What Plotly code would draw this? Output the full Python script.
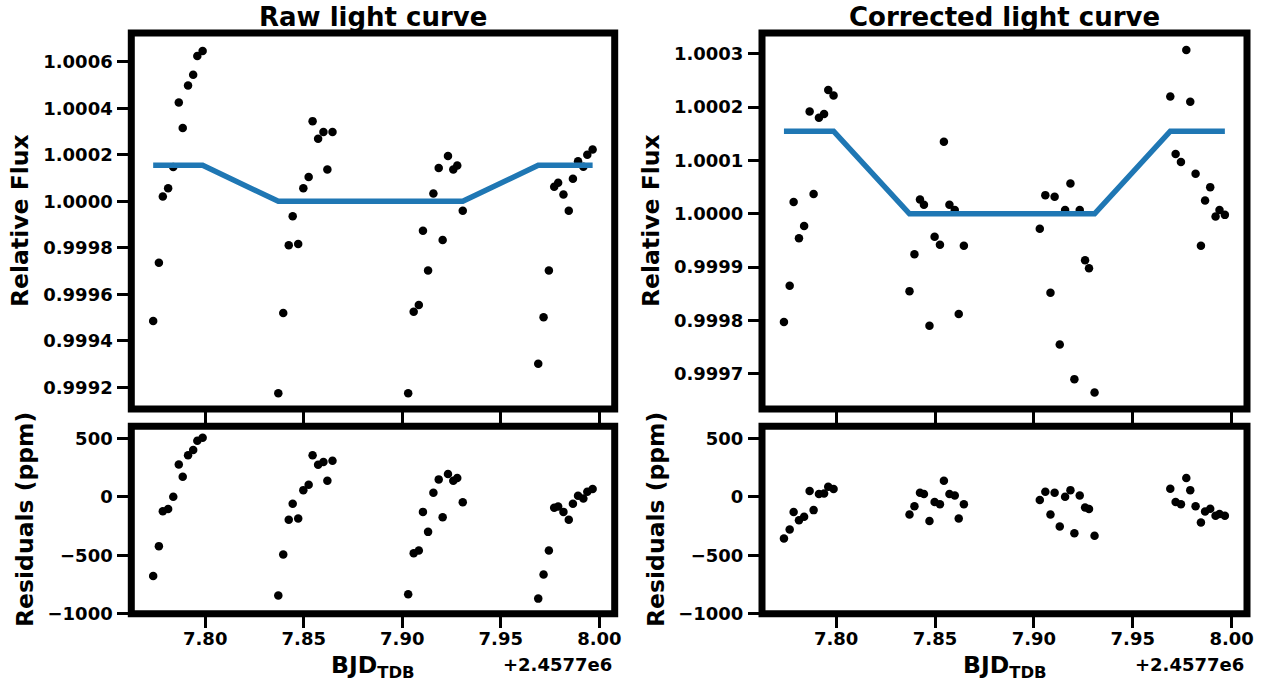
import plotly.graph_objects as go

# ---------------- data (BJD_TDB - 2457700) ----------------
time = [7.7736, 7.7765, 7.7785, 7.7812, 7.7838, 7.7866, 7.7886, 7.7913, 7.7939, 7.7960, 7.7987,
        7.8371, 7.8396, 7.8424, 7.8444, 7.8472, 7.8498, 7.8525, 7.8545, 7.8573, 7.8600, 7.8620, 7.8646,
        7.9030, 7.9058, 7.9084, 7.9105, 7.9131, 7.9158, 7.9185, 7.9205, 7.9232, 7.9259, 7.9279, 7.9307,
        7.9690, 7.9717, 7.9744, 7.9771, 7.9791, 7.9818, 7.9845, 7.9866, 7.9892, 7.9919, 7.9939, 7.9966]

raw_flux = [0.999485, 0.999736, 1.000021, 1.000056, 1.000148, 1.000425, 1.000315, 1.000498, 1.000544, 1.000625, 1.000647,
            0.999175, 0.999520, 0.999811, 0.999936, 0.999817, 1.000056, 1.000105, 1.000345, 1.000269, 1.000298, 1.000137, 1.000298,
            0.999175, 0.999525, 0.999554, 0.999874, 0.999703, 1.000034, 1.000143, 0.999834, 1.000195, 1.000137, 1.000154, 0.999960,
            0.999302, 0.999502, 0.999703, 1.000063, 1.000080, 1.000029, 0.999960, 1.000097, 1.000172, 1.000149, 1.000200, 1.000223]

raw_resid_ppm = [-677, -422, -123, -105, 0, 277, 171, 355, 400, 480, 506,
                 -845, -494, -197, -60, -185, 57, 103, 355, 274, 297, 137, 308,
                 -834, -483, -459, -129, -300, 34, 149, -174, 194, 137, 160, -46,
                 -871, -665, -459, -94, -83, -129, -197, -60, 9, -14, 43, 66]

corr_flux = [0.999797, 0.999865, 1.000022, 0.999954, 0.999977, 1.000192, 1.000037, 1.000180, 1.000187, 1.000232, 1.000222,
             0.999855, 0.999924, 1.000027, 1.000017, 0.999790, 0.999957, 0.999942, 1.000135, 1.000017, 1.000007, 0.999812, 0.999940,
             0.999972, 1.000035, 0.999852, 1.000032, 0.999755, 1.000007, 1.000057, 0.999690, 1.000007, 0.999913, 0.999898, 0.999665,
             1.000220, 1.000112, 1.000097, 1.000307, 1.000210, 1.000075, 0.999940, 1.000025, 1.000050, 0.999995, 1.000007, 0.999998]

corr_resid_ppm = [-357, -280, -131, -200, -171, 49, -114, 23, 29, 86, 66,
                  -151, -80, 34, 23, -208, -45, -63, 137, 23, 12, -185, -63,
                  -28, 43, -151, 34, -254, 0, 57, -311, 12, -91, -105, -334,
                  69, -45, -63, 160, 57, -80, -220, -125, -103, -163, -148, -163]

model_flux = [1.000155, 1.000155, 1.000155, 1.000155, 1.000155, 1.000155, 1.000155, 1.000155, 1.000155, 1.000155, 1.000155,
              1.0, 1.0, 1.0, 1.0, 1.0, 1.0, 1.0, 1.0, 1.0, 1.0, 1.0, 1.0,
              1.0, 1.0, 1.0, 1.0, 1.0, 1.0, 1.0, 1.0, 1.0, 1.0, 1.0, 1.0,
              1.000155, 1.000155, 1.000155, 1.000155, 1.000155, 1.000155, 1.000155, 1.000155, 1.000155, 1.000155, 1.000155, 1.000155]

x_ticks = [7.80, 7.85, 7.90, 7.95, 8.00]
raw_yticks = [0.9992, 0.9994, 0.9996, 0.9998, 1.0000, 1.0002, 1.0004, 1.0006]
corr_yticks = [0.9997, 0.9998, 0.9999, 1.0000, 1.0001, 1.0002, 1.0003]
resid_yticks = [-1000, -500, 0, 500]
offset_label = "+2.4577e6"
titles = ["Raw light curve", "Corrected light curve"]

# ---------------- layout helpers ----------------
W, H = 1261, 683
FONT = "DejaVu Sans"
def fx(p): return p / W
def fy(p): return 1 - p / H

LEFT_X = [fx(131.3), fx(614.7)]
RIGHT_X = [fx(762.0), fx(1247.0)]
TOP_Y = [fy(409.0), fy(33.0)]
BOT_Y = [fy(613.7), fy(426.3)]

XR = [7.7625, 8.0078]

fig = go.Figure()

def add_panel(xa, ya, y):
    fig.add_trace(go.Scatter(x=time, y=y, mode="markers", xaxis=xa, yaxis=ya,
                             marker=dict(color="black", size=8.5, line=dict(width=0)),
                             showlegend=False))

add_panel("x", "y", raw_flux)
fig.add_trace(go.Scatter(x=time, y=model_flux, mode="lines", xaxis="x", yaxis="y",
                         line=dict(color="#1f77b4", width=5.5), showlegend=False))
add_panel("x2", "y2", corr_flux)
fig.add_trace(go.Scatter(x=time, y=model_flux, mode="lines", xaxis="x2", yaxis="y2",
                         line=dict(color="#1f77b4", width=5.5), showlegend=False))
add_panel("x3", "y3", raw_resid_ppm)
add_panel("x4", "y4", corr_resid_ppm)

tickfont = dict(family=FONT, size=18, color="black", weight="bold")
common = dict(showgrid=False, zeroline=False, showline=False, ticks="outside",
              ticklen=13, tickwidth=3, tickcolor="black", tickfont=tickfont,
              automargin=False)

def xax(domain, anchor, labels):
    return dict(domain=domain, anchor=anchor, range=XR, tickvals=x_ticks,
                tickformat=".2f", showticklabels=labels, ticklabelstandoff=-4, **common)

def yax(domain, anchor, rng, tv, fmt):
    return dict(domain=domain, anchor=anchor, range=rng, tickvals=tv,
                tickformat=fmt, ticklabelstandoff=1, **common)

fig.update_layout(
    width=W, height=H, autosize=False,
    margin=dict(l=0, r=0, t=0, b=0, pad=0),
    paper_bgcolor="white", plot_bgcolor="white",
    xaxis=xax(LEFT_X, "y", False),
    xaxis2=xax(RIGHT_X, "y2", False),
    xaxis3=xax(LEFT_X, "y3", True),
    xaxis4=xax(RIGHT_X, "y4", True),
    yaxis=yax(TOP_Y, "x", [0.999107, 1.000724], raw_yticks, ".4f"),
    yaxis2=yax(TOP_Y, "x2", [0.999634, 1.000339], corr_yticks, ".4f"),
    yaxis3=yax(BOT_Y, "x3", [-1000, 603], resid_yticks, "d"),
    yaxis4=yax(BOT_Y, "x4", [-1000, 603], resid_yticks, "d"),
)

# frames (thick spines)
for xa, ya in [("x", "y"), ("x2", "y2"), ("x3", "y3"), ("x4", "y4")]:
    fig.add_shape(type="rect", xref=f"{xa} domain", yref=f"{ya} domain",
                  x0=0, x1=1, y0=0, y1=1, line=dict(color="black", width=7),
                  fillcolor="rgba(0,0,0,0)", layer="above")

labfont = dict(family=FONT, size=23.5, color="black", weight="bold")
titfont = dict(family=FONT, size=26, color="black", weight="bold")
ann = []
for dom, t in zip([LEFT_X, RIGHT_X], titles):
    cx = (dom[0] + dom[1]) / 2
    ann.append(dict(text=t, x=cx, y=fy(17), xref="paper", yref="paper",
                    xanchor="center", yanchor="middle", showarrow=False, font=titfont))
    ann.append(dict(text="BJD<sub>TDB</sub>", x=cx, y=fy(666), xref="paper", yref="paper",
                    xanchor="center", yanchor="middle", showarrow=False, font=labfont))
    ann.append(dict(text=offset_label, x=dom[1] - fx(1), y=fy(664), xref="paper", yref="paper",
                    xanchor="right", yanchor="middle", showarrow=False, font=tickfont))

for cxp, lab, cy in [(20, "Relative Flux", (33 + 409) / 2), (25, "Residuals (ppm)", (426.3 + 613.7) / 2),
                     (651, "Relative Flux", (33 + 409) / 2), (656, "Residuals (ppm)", (426.3 + 613.7) / 2)]:
    ann.append(dict(text=lab, x=fx(cxp), y=fy(cy), xref="paper", yref="paper",
                    xanchor="center", yanchor="middle", textangle=-90, showarrow=False, font=labfont))

fig.update_layout(annotations=ann)
fig.write_html("out.html")
